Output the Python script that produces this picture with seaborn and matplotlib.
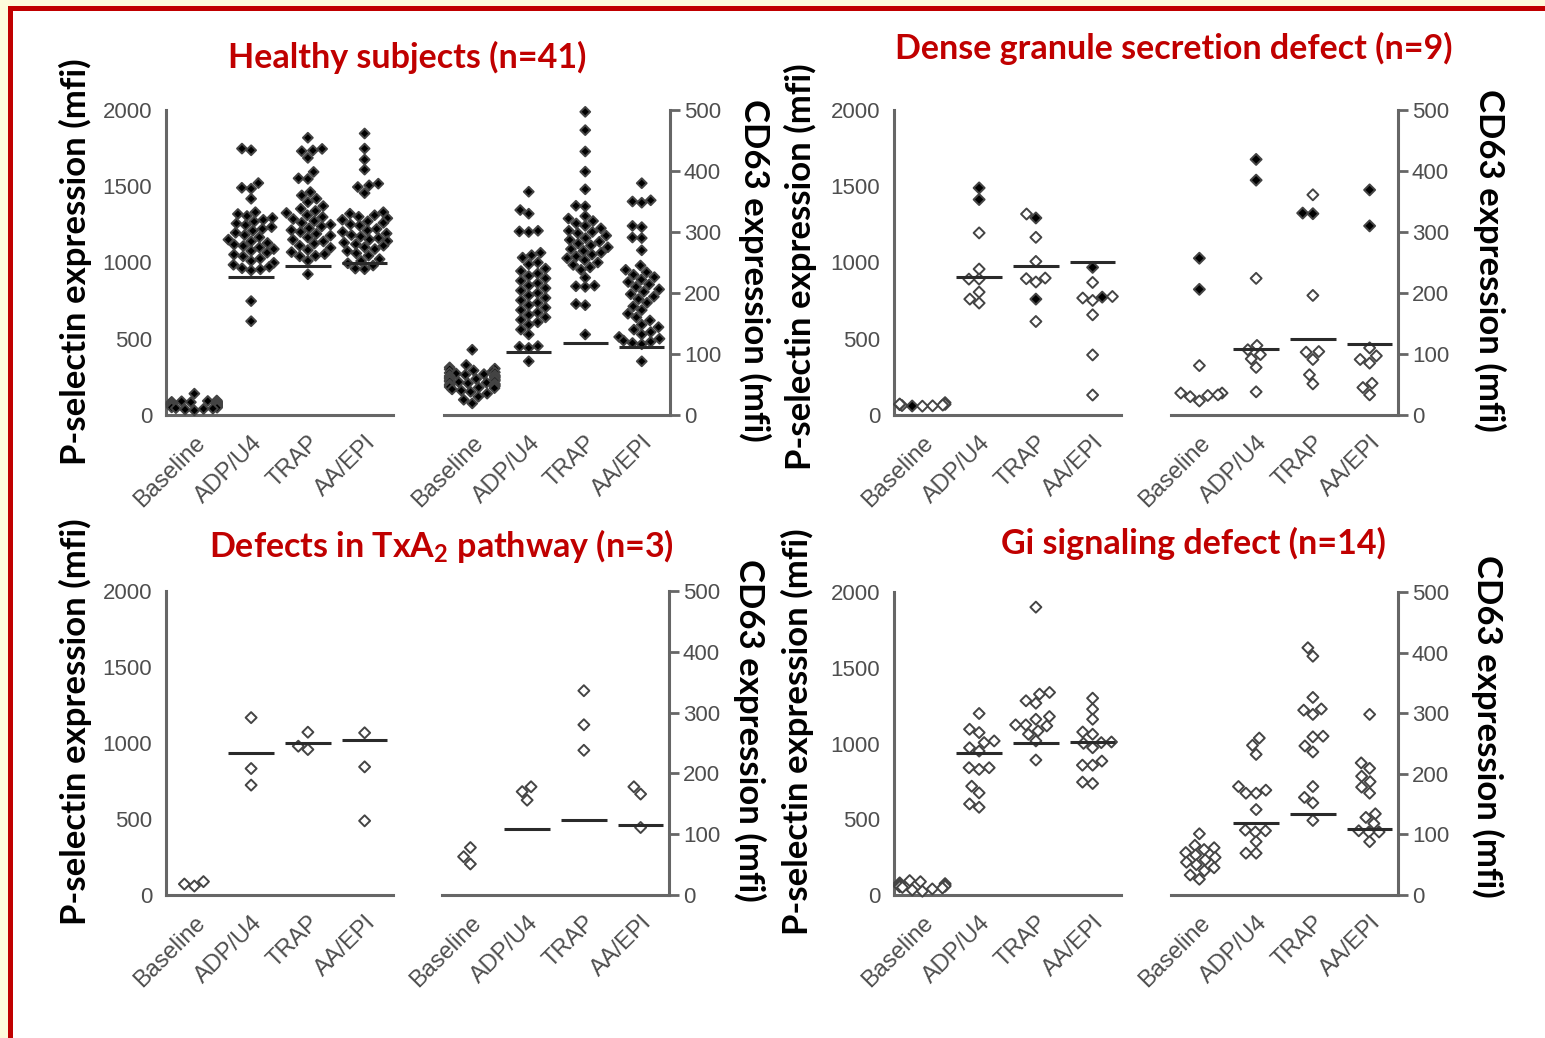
import numpy as np
import pandas as pd
import matplotlib
matplotlib.use("Agg")
import matplotlib.pyplot as plt
import seaborn as sns
from matplotlib.patches import Rectangle

W, H = 1545, 1038
cats = ["Baseline", "ADP/U4", "TRAP", "AA/EPI"]
psel_ticks = [0, 500, 1000, 1500, 2000]
cd63_ticks = [0, 100, 200, 300, 400, 500]
titles = ["Healthy subjects (n=41)", "Dense granule secretion defect (n=9)",
          "Defects in TxA$_2$ pathway (n=3)", "Gi signaling defect (n=14)"]
psel_label = "P-selectin expression (mfi)"
cd63_label = "CD63 expression (mfi)"

# ---------------- Healthy subjects (filled) ----------------
hs_psel = [
    [140, 95, 92, 90, 88, 86, 85, 84, 82, 80, 80, 78, 77, 76, 75, 74, 73, 72, 71, 70, 70,
     69, 68, 67, 66, 65, 64, 63, 62, 60, 58, 56, 55, 53, 50, 48, 45, 42, 40, 36, 30],
    [1747, 1736, 1521, 1490, 1484, 1418, 1330, 1318, 1305, 1292, 1280, 1268, 1256, 1245,
     1232, 1220, 1208, 1195, 1180, 1165, 1150, 1138, 1128, 1118, 1108, 1098, 1088, 1076,
     1064, 1052, 1040, 1025, 1010, 998, 985, 972, 962, 955, 948, 747, 615],
    [1818, 1745, 1735, 1730, 1686, 1594, 1552, 1548, 1462, 1440, 1418, 1396, 1370, 1352,
     1338, 1325, 1310, 1298, 1285, 1272, 1260, 1248, 1236, 1224, 1212, 1200, 1188, 1176,
     1164, 1150, 1138, 1124, 1110, 1096, 1082, 1068, 1055, 1044, 1040, 1011, 923],
    [1846, 1747, 1675, 1609, 1517, 1506, 1495, 1455, 1330, 1320, 1310, 1300, 1290, 1280,
     1270, 1260, 1250, 1242, 1220, 1210, 1200, 1190, 1180, 1170, 1160, 1150, 1140, 1130,
     1120, 1110, 1100, 1088, 1075, 1060, 1045, 1022, 1010, 995, 980, 960, 956],
]
hs_cd63 = [
    [107, 82, 78, 76, 75, 73, 72, 70, 69, 68, 67, 66, 65, 64, 63, 62, 61, 60, 59, 58, 57,
     56, 55, 54, 53, 52, 51, 50, 49, 48, 47, 46, 45, 44, 42, 40, 38, 35, 30, 25, 19],
    [366, 336, 330, 302, 301, 300, 266, 262, 258, 250, 247, 240, 236, 232, 228, 224, 220,
     216, 212, 208, 204, 200, 196, 192, 188, 184, 180, 176, 172, 168, 164, 160, 156, 152,
     148, 140, 132, 113, 112, 110, 88],
    [497, 467, 432, 399, 370, 343, 342, 326, 322, 318, 314, 310, 306, 302, 300, 298, 294,
     290, 287, 284, 281, 278, 275, 272, 269, 266, 263, 260, 257, 254, 250, 246, 242, 238,
     225, 212, 211, 210, 182, 180, 132],
    [380, 352, 350, 348, 310, 308, 291, 290, 270, 245, 238, 234, 230, 226, 222, 218, 214,
     210, 206, 202, 198, 194, 190, 184, 178, 172, 166, 160, 155, 148, 144, 140, 136, 132,
     128, 125, 122, 120, 118, 116, 88],
]
hs_psel_lines = [908, 980, 1000]
hs_cd63_lines = [104, 118, 111]

# ---------------- Dense granule secretion defect ----------------
dg_psel_filled = [[81, 59], [1489, 1413], [1292, 760], [968, 773]]
dg_psel_open = [[70, 65, 62, 60, 68, 72, 58],
                [1194, 957, 891, 891, 806, 734, 760],
                [1318, 1165, 1007, 898, 872, 894, 613],
                [869, 777, 767, 751, 657, 394, 131]]
dg_cd63_filled = [[257, 206], [419, 385], [331, 330], [369, 310]]
dg_cd63_open = [[81, 36, 30, 23, 32, 36, 33],
                [224, 114, 92, 107, 99, 78, 38],
                [361, 196, 104, 103, 91, 66, 51],
                [110, 97, 91, 85, 52, 45, 33]]
dg_psel_lines = [905, 975, 1001]
dg_cd63_lines = [109, 124, 116]

# ---------------- TxA2 pathway defects ----------------
tx_psel = [[88, 59, 72], [1167, 832, 723], [1071, 957, 979], [1067, 843, 488]]
tx_cd63 = [[78, 63, 51], [178, 156, 170], [336, 280, 238], [178, 166, 111]]
tx_psel_lines = [931, 997, 1019]
tx_cd63_lines = [109, 124, 115]

# ---------------- Gi signaling defect ----------------
gi_psel = [
    [95, 88, 80, 75, 70, 66, 62, 58, 55, 50, 46, 40, 33, 25],
    [1198, 1094, 1072, 1017, 1006, 972, 950, 840, 840, 829, 718, 674, 601, 579],
    [1900, 1337, 1326, 1282, 1266, 1178, 1160, 1123, 1123, 1116, 1083, 1061, 1017, 891],
    [1299, 1227, 1160, 1076, 1061, 1010, 1006, 1001, 972, 884, 857, 857, 745, 736],
]
gi_cd63 = [
    [101, 82, 78, 75, 70, 66, 62, 58, 54, 50, 45, 40, 33, 26],
    [259, 247, 232, 179, 173, 168, 168, 141, 107, 106, 104, 88, 69, 69],
    [408, 394, 326, 307, 305, 298, 262, 261, 246, 236, 179, 161, 152, 123],
    [298, 218, 209, 196, 187, 178, 168, 134, 128, 118, 106, 104, 104, 88],
]
gi_psel_lines = [939, 1001, 1012]
gi_cd63_lines = [118, 133, 109]

# ---------------- styling ----------------
sns.set_style("white")
plt.rcParams["font.family"] = ["Liberation Sans", "DejaVu Sans"]
plt.rcParams["mathtext.fontset"] = "custom"
plt.rcParams["mathtext.rm"] = "Lato:bold"
plt.rcParams["mathtext.it"] = "Lato:bold"
plt.rcParams["mathtext.bf"] = "Lato:bold"

GRAY = "#4e4e4e"
TITLE_RED = "#c00000"

fig = plt.figure(figsize=(W / 100, H / 100), dpi=100)
fig.patch.set_facecolor("#fdfbdc")
fig.patches.append(Rectangle((9.8 / W, 1 - 1040 / H), (1570 - 9.8) / W, (1040 - 7.5) / H,
                             transform=fig.transFigure, facecolor="white",
                             edgecolor="#c00000", linewidth=3.6, zorder=-5))


def add_ax(x0, x1, y0, y1):
    return fig.add_axes([x0 / W, 1 - y1 / H, (x1 - x0) / W, (y1 - y0) / H])


def make_df(filled, opened):
    rows = []
    for c, f, o in zip(cats, filled, opened):
        rows += [(c, v, "filled") for v in f]
        rows += [(c, v, "open") for v in o]
    return pd.DataFrame(rows, columns=["cat", "val", "fill"])


def draw(ax, df, lines, side, ymax, ticks, msize):
    levels = [lv for lv in ["filled", "open"] if lv in set(df["fill"])]
    sns.swarmplot(data=df, x="cat", y="val", hue="fill", order=cats, hue_order=levels,
                  palette={"filled": "black", "open": "white"}, marker="D", size=msize,
                  edgecolor="#444444", linewidth=1.4, legend=False, ax=ax, warn_thresh=1)
    for c in ax.collections:
        c.set_clip_on(False)
    pos = np.arange(1, 4)
    ax.hlines(lines, pos - 0.4, pos + 0.4, color="#2a2a2a", lw=2.2, zorder=4)
    ax.set_xlim(-0.5, 3.5)
    ax.set_ylim(0, ymax)
    ax.set_yticks(ticks)
    ax.set_xticks(range(4))
    ax.set_xticklabels(cats, rotation=45, ha="right", va="top", rotation_mode="anchor",
                       fontsize=17)
    ax.set_xlabel("")
    ax.set_ylabel("")
    ax.set_facecolor("none")
    for s in ax.spines.values():
        s.set_color("#666666")
        s.set_linewidth(2.2)
    ax.spines["top"].set_visible(False)
    if side == "left":
        ax.spines["right"].set_visible(False)
    else:
        ax.spines["left"].set_visible(False)
        ax.yaxis.tick_right()
    ax.tick_params(axis="both", which="major", direction="out", length=7, width=2,
                   color="#666666", labelcolor=GRAY, pad=3)
    ax.tick_params(axis="y", labelsize=16)
    ax.tick_params(axis="x", pad=5)


# panel geometry (pixels)
geo = {
    "TL_l": (166, 393, 110, 415), "TL_r": (444, 670, 110, 415),
    "TR_l": (894, 1121, 110, 415), "TR_r": (1171, 1398, 110, 415),
    "BL_l": (166, 393, 591, 895), "BL_r": (442, 669, 591, 895),
    "BR_l": (894, 1121, 592, 895), "BR_r": (1171, 1398, 592, 895),
}
empty = [[], [], [], []]

draw(add_ax(*geo["TL_l"]), make_df(hs_psel, empty), hs_psel_lines, "left", 2000, psel_ticks, 5.0)
draw(add_ax(*geo["TL_r"]), make_df(hs_cd63, empty), hs_cd63_lines, "right", 500, cd63_ticks, 5.0)
draw(add_ax(*geo["TR_l"]), make_df(dg_psel_filled, dg_psel_open), dg_psel_lines, "left", 2000, psel_ticks, 5.6)
draw(add_ax(*geo["TR_r"]), make_df(dg_cd63_filled, dg_cd63_open), dg_cd63_lines, "right", 500, cd63_ticks, 5.6)
draw(add_ax(*geo["BL_l"]), make_df(empty, tx_psel), tx_psel_lines, "left", 2000, psel_ticks, 5.6)
draw(add_ax(*geo["BL_r"]), make_df(empty, tx_cd63), tx_cd63_lines, "right", 500, cd63_ticks, 5.6)
draw(add_ax(*geo["BR_l"]), make_df(empty, gi_psel), gi_psel_lines, "left", 2000, psel_ticks, 5.6)
draw(add_ax(*geo["BR_r"]), make_df(empty, gi_cd63), gi_cd63_lines, "right", 500, cd63_ticks, 5.6)

lab_kw = dict(fontsize=25, fontweight="bold", family=["Lato", "DejaVu Sans"],
              color="black", ha="center", va="center")
for (x, y) in [(75, 262), (800, 267), (75, 722), (797, 732)]:
    fig.text(x / W, 1 - y / H, psel_label, rotation=90, **lab_kw)
for (x, y) in [(755, 270), (1490, 260), (750, 730), (1488, 726)]:
    fig.text(x / W, 1 - y / H, cd63_label, rotation=270, **lab_kw)

title_kw = dict(fontsize=24.5, fontweight="bold", family=["Lato", "DejaVu Sans"],
                color=TITLE_RED, ha="center", va="center")
for t, (x, y) in zip(titles, [(407, 57), (1174, 48), (441, 546), (1193, 543)]):
    fig.text(x / W, 1 - y / H, t, **title_kw)

fig.savefig("out.png", dpi=100, facecolor=fig.get_facecolor())
